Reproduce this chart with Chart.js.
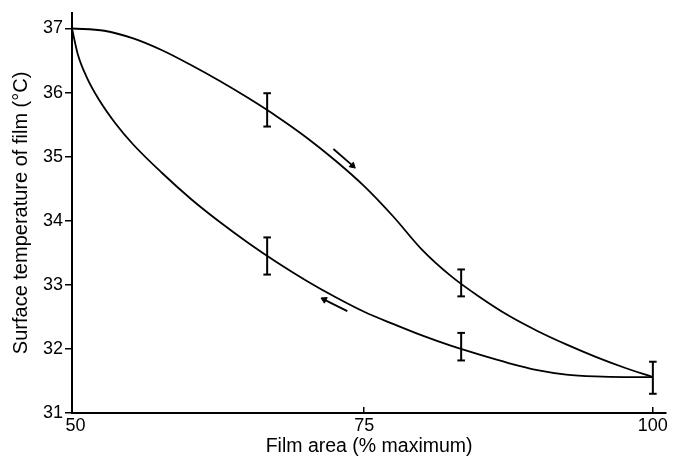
<!DOCTYPE html>
<html>
<head>
<meta charset="utf-8">
<script src="https://cdn.jsdelivr.net/npm/chart.js@4/dist/chart.umd.min.js"></script>
<style>
  html, body { margin: 0; padding: 0; background: #fff; }
  #wrap { width: 676px; height: 463px; position: relative; }
</style>
</head>
<body>
<div id="wrap"><canvas id="c"></canvas></div>
<script>
// ---- data ----
const xTicks = [50, 75, 100];
const yTicks = [31, 32, 33, 34, 35, 36, 37];

// expansion (upper) curve
const upperX = [49.7, 52.5, 55, 57.5, 60, 62.5, 65, 67.5, 70, 72.5, 75, 77.5, 80, 82.5, 85, 87.5, 90, 92.5, 95, 97.5, 100];
const upperY = [37.0, 36.965, 36.845, 36.66, 36.43, 36.18, 35.91, 35.62, 35.30, 34.94, 34.54, 34.07, 33.55, 33.14, 32.81, 32.52, 32.28, 32.07, 31.88, 31.71, 31.56];

// compression (lower) curve
const lowerX = [49.7, 50.2, 51, 52, 53.5, 55, 57.5, 60, 62.5, 65, 67.5, 70, 72.5, 75, 77.5, 80, 82.5, 85, 87.5, 90, 92.5, 95, 97.5, 100];
const lowerY = [37.0, 36.60, 36.23, 35.90, 35.51, 35.19, 34.745, 34.34, 33.98, 33.65, 33.345, 33.065, 32.81, 32.58, 32.39, 32.21, 32.05, 31.91, 31.78, 31.67, 31.60, 31.57, 31.56, 31.56];

// error bars
const errX    = [66.6, 66.6, 83.4, 83.4, 100];
const errLow  = [35.47, 33.16, 32.82, 31.82, 31.30];
const errHigh = [35.99, 33.74, 33.24, 32.25, 31.80];

// direction arrows [x0, y0, x1, y1]
const arrowUpper = [72.34, 35.12, 74.0, 34.86];
const arrowLower = [73.54, 32.59, 71.54, 32.77];

// ---- build datasets ----
const toPts = (xs, ys) => xs.map((x, i) => ({x, y: ys[i]}));
const curveStyle = {
  borderColor: '#000', borderWidth: 1.8, pointRadius: 0, fill: false,
  cubicInterpolationMode: 'monotone', clip: false
};
const datasets = [
  Object.assign({data: toPts(upperX, upperY)}, curveStyle),
  Object.assign({data: toPts(lowerX, lowerY)}, curveStyle)
];
errX.forEach((x, i) => {
  datasets.push({
    data: [{x, y: errLow[i]}, {x, y: errHigh[i]}],
    borderColor: '#000', borderWidth: 2,
    pointStyle: 'line', pointRadius: 3.8, pointBorderWidth: 2,
    pointBorderColor: '#000', pointBackgroundColor: '#000',
    clip: false
  });
});
[[arrowUpper, 133], [arrowLower, -63]].forEach(([a, rot]) => {
  datasets.push({
    data: [{x: a[0], y: a[1]}, {x: a[2], y: a[3]}],
    borderColor: '#000', borderWidth: 1.8,
    pointStyle: 'triangle', pointRadius: [0, 3.6], pointRotation: rot,
    pointBorderColor: '#000', pointBackgroundColor: '#000', pointBorderWidth: 1,
    clip: false
  });
});

const FONT = '"Liberation Sans", Arial, Helvetica, sans-serif';

new Chart(document.getElementById('c'), {
  type: 'line',
  data: { datasets },
  options: {
    responsive: true,
    maintainAspectRatio: false,
    animation: false,
    events: [],
    layout: { padding: { top: 5, right: 4, left: 0, bottom: 0 } },
    plugins: { legend: { display: false }, tooltip: { enabled: false } },
    scales: {
      x: {
        type: 'linear', position: 'bottom',
        min: 49.7, max: 101.16,
        afterBuildTicks: s => { s.ticks = xTicks.map(v => ({value: v})); },
        afterFit: s => { s.height = 50; },
        ticks: { color: '#000', font: { family: FONT, size: 18 }, padding: 8, maxRotation: 0 },
        grid: {
          drawOnChartArea: false, drawTicks: true, tickLength: -6,
          color: c => (c.tick && c.tick.value === 50) ? 'rgba(0,0,0,0)' : '#000',
          lineWidth: 1.5
        },
        border: { display: true, color: '#000', width: 2 },
        title: {
          display: true, text: 'Film area (% maximum)', color: '#000',
          font: { family: FONT, size: 19.5 }, padding: { top: 0, bottom: 5 }
        }
      },
      y: {
        type: 'linear', position: 'left',
        min: 31, max: 37.245,
        afterBuildTicks: s => { s.ticks = yTicks.map(v => ({value: v})); },
        afterFit: s => { s.width = 72; },
        ticks: { color: '#000', font: { family: FONT, size: 18 }, padding: 2 },
        grid: { drawOnChartArea: false, drawTicks: true, tickLength: 7, color: '#000', lineWidth: 1.5 },
        border: { display: true, color: '#000', width: 2 },
        title: {
          display: true, text: 'Surface temperature of film (°C)', color: '#000',
          font: { family: FONT, size: 20 }, padding: { top: 9, bottom: 0 }
        }
      }
    }
  }
});
</script>
</body>
</html>
